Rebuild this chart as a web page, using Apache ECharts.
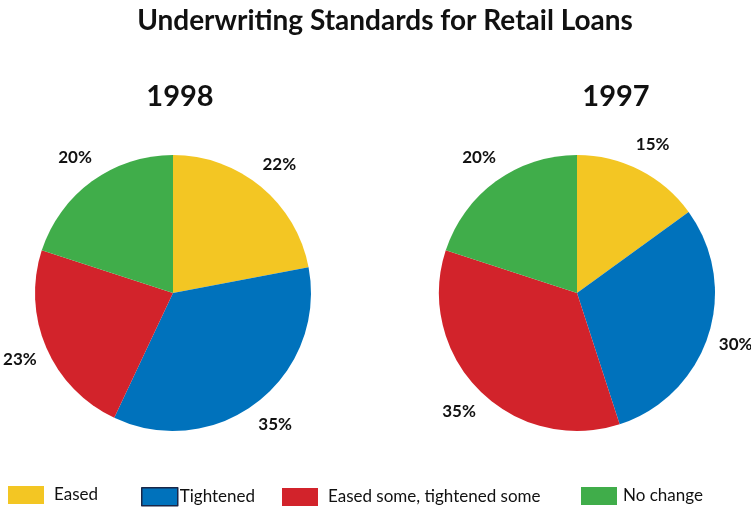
<!DOCTYPE html>
<html>
<head>
<meta charset="utf-8">
<title>Underwriting Standards for Retail Loans</title>
<script src="https://cdn.jsdelivr.net/npm/echarts@6/dist/echarts.min.js"></script>
<style>
  html, body { margin: 0; padding: 0; background: #ffffff; }
  #chart { width: 751px; height: 508px; }
</style>
</head>
<body>
<div id="chart"></div>
<script>
// Survey responses: share of banks by change in retail underwriting standards
const categories = ['Eased', 'Tightened', 'Eased some, tightened some', 'No change'];
const years = ['1998', '1997'];
const values1998 = [22, 35, 23, 20];
const values1997 = [15, 30, 35, 20];
const colors = ['#F3C623', '#0072BC', '#D2232B', '#40AD4A'];

const FONT = 'Lato, "Noto Sans", sans-serif';

function pieData(values) {
  return categories.map((name, i) => ({ name: name, value: values[i] }));
}

function pieSeries(name, values, center) {
  return {
    type: 'pie',
    name: name,
    center: center,
    radius: 138,
    startAngle: 90,
    clockwise: true,
    avoidLabelOverlap: false,
    silent: true,
    data: pieData(values),
    label: {
      show: true,
      position: 'outside',
      formatter: '{c}%',
      color: '#111111',
      fontFamily: FONT,
      fontWeight: 'bold',
      fontSize: 17,
      distanceToLabelLine: -17
    },
    labelLine: { show: false, length: 29, length2: 0 },
    itemStyle: { borderWidth: 0 }
  };
}

// one legend block per category so each entry sits at its own spot
const legendSpots = [
  { left: 8, top: 486, gap: 5 },
  { left: 141, top: 487, gap: -3 },
  { left: 282, top: 488, gap: 5 },
  { left: 581, top: 487, gap: 1 }
];

const legends = categories.map((name, i) => {
  const item = { name: name };
  if (name === 'Tightened') {
    item.itemStyle = { borderColor: '#1a2748', borderWidth: 1.5 };
  }
  return {
    data: [item],
    left: legendSpots[i].left,
    top: legendSpots[i].top,
    padding: 0,
    icon: 'rect',
    itemWidth: 36,
    itemHeight: 18,
    selectedMode: false,
    textStyle: {
      fontFamily: FONT,
      fontSize: 17,
      color: '#111111',
      padding: [i === 2 ? 4 : 1, 0, 0, legendSpots[i].gap]
    }
  };
});

const chart = echarts.init(document.getElementById('chart'), null, { renderer: 'canvas' });

chart.setOption({
  animation: false,
  backgroundColor: '#ffffff',
  color: colors,
  title: [
    {
      text: 'Underwriting Standards for Retail Loans',
      left: 385,
      top: 7,
      padding: 0,
      textAlign: 'center',
      textStyle: { fontFamily: FONT, fontWeight: 'bold', fontSize: 28, color: '#111111' }
    },
    {
      text: years[0],
      left: 180,
      top: 82,
      padding: 0,
      textAlign: 'center',
      textStyle: { fontFamily: FONT, fontWeight: 'bold', fontSize: 29, color: '#111111' }
    },
    {
      text: years[1],
      left: 616,
      top: 82,
      padding: 0,
      textAlign: 'center',
      textStyle: { fontFamily: FONT, fontWeight: 'bold', fontSize: 29, color: '#111111' }
    }
  ],
  legend: legends,
  series: [
    pieSeries(years[0], values1998, [173, 293]),
    pieSeries(years[1], values1997, [577, 293])
  ]
});
</script>
</body>
</html>
